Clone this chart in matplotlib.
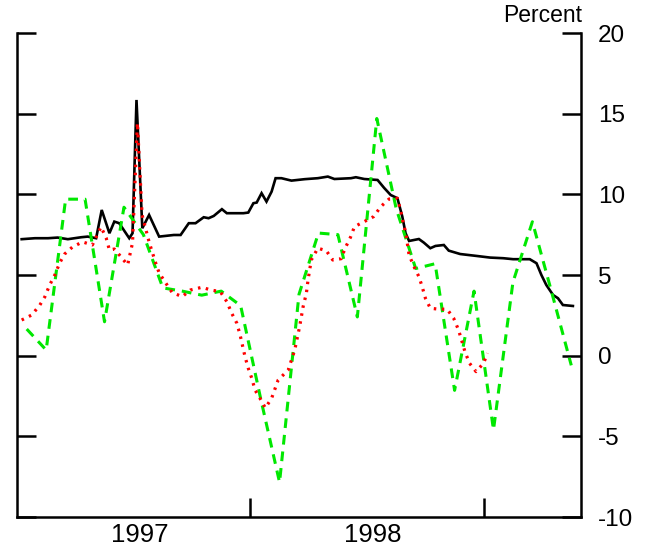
import matplotlib
matplotlib.use("Agg")
import matplotlib.pyplot as plt
from matplotlib.ticker import FixedLocator, FuncFormatter

plt.rcParams['font.family'] = ['Liberation Sans', 'DejaVu Sans']
plt.rcParams['axes.unicode_minus'] = False
plt.rcParams['lines.scale_dashes'] = False

# black line, roughly weekly (decimal year, percent)
black_t = [1997.020, 1997.077, 1997.133, 1997.174, 1997.218, 1997.275, 1997.303, 1997.339,
           1997.363, 1997.396, 1997.417, 1997.438, 1997.481, 1997.495, 1997.512, 1997.537,
           1997.566, 1997.609, 1997.672, 1997.701, 1997.736, 1997.765, 1997.800, 1997.821,
           1997.843, 1997.878, 1997.899, 1997.970, 1997.991, 1998.013, 1998.027, 1998.048,
           1998.069, 1998.091, 1998.108, 1998.133, 1998.176, 1998.233, 1998.289, 1998.332,
           1998.360, 1998.431, 1998.452, 1998.488, 1998.545, 1998.573, 1998.601, 1998.630,
           1998.651, 1998.665, 1998.680, 1998.722, 1998.743, 1998.771, 1998.793, 1998.829,
           1998.850, 1998.899, 1998.970, 1999.027, 1999.084, 1999.126, 1999.197, 1999.226,
           1999.247, 1999.268, 1999.297, 1999.318, 1999.339, 1999.382]
black_v = [7.22, 7.28, 7.28, 7.32, 7.22, 7.34, 7.38, 7.28,
           9.03, 7.59, 8.31, 8.21, 7.28, 7.59, 15.85, 7.90,
           8.72, 7.38, 7.48, 7.48, 8.21, 8.21, 8.58, 8.52,
           8.66, 9.08, 8.83, 8.83, 8.87, 9.45, 9.49, 10.07,
           9.55, 10.17, 11.00, 11.00, 10.85, 10.94, 11.00, 11.10,
           10.95, 11.00, 11.06, 10.95, 10.89, 10.40, 9.96, 9.76,
           8.62, 7.59, 7.11, 7.23, 7.01, 6.66, 6.80, 6.86,
           6.51, 6.30, 6.18, 6.08, 6.04, 5.98, 5.98, 5.73,
           5.00, 4.38, 3.76, 3.56, 3.14, 3.08]

# green dashed line, monthly Jan 1997 - May 1999
green_months = [f"{y}-{m:02d}" for y in (1997, 1998, 1999) for m in range(1, 13)][:29]
green_v = [1.65, 0.35, 9.7, 9.7, 2.1, 9.2, 7.5, 4.2, 4.0, 3.75, 4.0, 3.1,
           -2.5, -7.85, 3.8, 7.6, 7.5, 2.4, 14.7, 9.1, 5.4, 5.7, -2.15, 4.0,
           -4.6, 4.55, 8.3, 3.9, -0.6]
green_t = [int(s[:4]) + (int(s[5:]) - 0.5) / 12 for s in green_months]

# red dotted line
red_t = [1997.020, 1997.063, 1997.098, 1997.119, 1997.140, 1997.162, 1997.183, 1997.204,
         1997.238, 1997.281, 1997.323, 1997.360, 1997.382, 1997.396, 1997.417, 1997.446,
         1997.474, 1997.495, 1997.516, 1997.536, 1997.566, 1997.594, 1997.609, 1997.637,
         1997.665, 1997.708, 1997.743, 1997.793, 1997.830, 1997.871, 1997.899, 1997.920,
         1997.942, 1997.956, 1997.977, 1997.991, 1998.006, 1998.020, 1998.041, 1998.064,
         1998.091, 1998.119, 1998.162, 1998.176, 1998.190, 1998.211, 1998.226, 1998.240,
         1998.247, 1998.261, 1998.289, 1998.325, 1998.353, 1998.389, 1998.406, 1998.429,
         1998.446, 1998.488, 1998.528, 1998.559, 1998.594, 1998.630, 1998.644, 1998.655,
         1998.665, 1998.680, 1998.701, 1998.722, 1998.736, 1998.750, 1998.771, 1998.807,
         1998.843, 1998.871, 1998.892, 1998.906, 1998.920, 1998.939, 1998.967, 1998.999,
         1999.016]
red_v = [2.21, 2.52, 3.14, 3.64, 4.38, 5.00, 5.75, 6.30,
         6.74, 7.05, 6.86, 7.98, 7.30, 6.55, 6.61, 6.12,
         5.62, 6.99, 14.43, 8.72, 7.05, 5.75, 5.13, 4.51,
         3.91, 3.66, 4.07, 4.24, 4.07, 3.97, 3.35, 2.63,
         2.01, 1.28, -0.06, -0.78, -1.40, -2.13, -2.64, -3.24,
         -2.64, -1.51, -0.89, -0.27, 0.35, 1.80, 3.04, 3.87,
         4.69, 5.93, 6.66, 6.51, 5.93, 6.01, 6.66, 7.34,
         8.00, 8.31, 8.62, 9.24, 9.71, 9.76, 8.98, 8.21,
         7.67, 6.24, 5.52, 4.90, 4.28, 3.56, 2.94, 2.88,
         2.88, 2.32, 1.59, 0.91, 0.22, -0.47, -0.99, -0.47,
         0.15]

year_labels = ["1997", "1998"]
y_ticks = [-10, -5, 0, 5, 10, 15, 20]

fig = plt.figure(figsize=(6.45, 5.51), dpi=100)
ax = fig.add_axes([17/645, 1 - 517/551, (581 - 17)/645, (517 - 33)/551])

ax.plot(black_t, black_v, color='black', lw=1.9, solid_joinstyle='miter')
ax.plot(green_t, green_v, color='#00e800', lw=2.2, dashes=(7, 5))
ax.plot(red_t, red_v, color='#ff0000', lw=2.3, dashes=(1.8, 4))

ax.set_xlim(1997, 1999 + 5/12)
ax.set_ylim(-10, 20)

ax.spines['top'].set_visible(False)
for s in ('left', 'right', 'bottom'):
    ax.spines[s].set_linewidth(1.8)

ax.yaxis.set_major_locator(FixedLocator(y_ticks))
ax.yaxis.set_major_formatter(FuncFormatter(lambda v, p: f"{int(v)}"))
ax.tick_params(axis='y', left=True, right=True, labelleft=False, labelright=True,
               direction='in', length=14, width=1.8, pad=12, labelsize=17.5)

ax.xaxis.set_major_locator(FixedLocator([1998, 1999]))
ax.xaxis.set_minor_locator(FixedLocator([1997.525, 1998.525]))
ax.xaxis.set_major_formatter(FuncFormatter(lambda v, p: ""))
ax.xaxis.set_minor_formatter(FuncFormatter(lambda v, p: year_labels[p] if p < 2 else ""))
ax.tick_params(axis='x', which='major', direction='in', length=14, width=1.8)
ax.tick_params(axis='x', which='minor', length=0, pad=4, labelsize=18.5)

fig.text(582/645, 1 - 15/551, "Percent", ha='right', va='center', fontsize=16.5)

fig.savefig("out.png", dpi=100)
